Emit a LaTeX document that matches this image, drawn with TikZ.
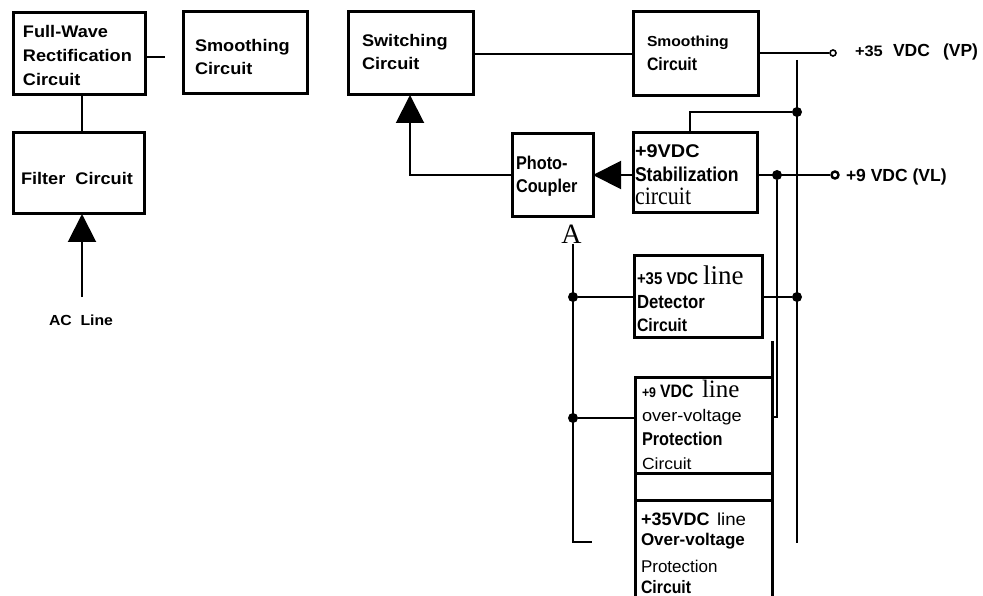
\documentclass[tikz,border=0pt]{standalone}
\usepackage{fontspec}
\usetikzlibrary{arrows.meta}
\newfontfamily\fw{Liberation Sans}[FakeStretch=1.08]
\newfontfamily\fn{Liberation Sans}
\newfontfamily\fc{Liberation Sans}[FakeStretch=0.88]
\newfontfamily\fs{Liberation Serif}
\newfontfamily\fsc{Liberation Serif}[FakeStretch=0.88]
\newcommand\fz[1]{\fontsize{#1}{#1}\selectfont}
\tikzset{
  box/.style={draw, line width=3pt, rectangle, inner sep=0, outer sep=0, anchor=north west},
  conn/.style={line width=2pt},
  txt/.style={inner sep=0, outer sep=0, anchor=base west},
  dotnode/.style={circle, fill, inner sep=0, minimum size=10pt},
  term/.style={circle, draw, fill=white, inner sep=0, minimum size=6pt, line width=1.6pt},
  tri/.style={-{Triangle[length=28pt,width=28pt]}}
}
\begin{document}
\begin{tikzpicture}[x=1pt,y=-1pt]
\useasboundingbox (0,0) rectangle (983,596);
\clip (0,0) rectangle (983,596);
% boxes
\node[box, minimum width=132pt, minimum height=82pt] (fw) at (13,13) {};
\node[box, minimum width=124pt, minimum height=82pt] (sm1) at (183,12) {};
\node[box, minimum width=131pt, minimum height=81pt] (filt) at (13,133) {};
\node[box, minimum width=125pt, minimum height=83pt] (sw) at (348,12) {};
\node[box, minimum width=125pt, minimum height=84pt] (sm2) at (633,12) {};
\node[box, minimum width=124pt, minimum height=80pt] (stab) at (633,133) {};
\node[box, minimum width=81pt, minimum height=83pt] (pc) at (512,134) {};
\node[box, minimum width=128pt, minimum height=81pt] (det) at (634,256) {};
\node[box, minimum width=137pt, minimum height=96pt] (p9) at (635,377) {};
\node[box, minimum width=137pt, minimum height=110pt] (p35) at (635,500) {};
% texts
\begin{scope}[every node/.style={txt}]
\node[font=\fw\bfseries\fz{16.8}] (t1) at (23,38) {Full-Wave};
\node[font=\fw\bfseries\fz{16.8}] (t2) at (23,62) {Rectification};
\node[font=\fw\bfseries\fz{16.8}] (t3) at (23,86) {Circuit};
\node[font=\fw\bfseries\fz{16.8}] (t4) at (195,52) {Smoothing};
\node[font=\fw\bfseries\fz{16.8}] (t5) at (195,75) {Circuit};
\node[font=\fw\bfseries\fz{16.8}] (t6) at (21,185) {Filter\ \ Circuit};
\node[font=\fw\bfseries\fz{14.6}] (ac) at (49,325) {AC\ \ Line};
\node[font=\fw\bfseries\fz{16.8}] (t7) at (362,47) {Switching};
\node[font=\fw\bfseries\fz{16.8}] (t8) at (362,70) {Circuit};
\node[font=\fw\bfseries\fz{14.5}] (t9) at (647,47) {Smoothing};
\node[font=\fc\bfseries\fz{18}] (t10) at (647,71) {Circuit};
\node[font=\fc\bfseries\fz{18.5}] (t11) at (516,170) {Photo-};
\node[font=\fc\bfseries\fz{18.5}] (t12) at (516,193) {Coupler};
\node[font=\fw\bfseries\fz{18.4}] (t13) at (635,158) {+9VDC};
\node[font=\fc\bfseries\fz{20}] (t14) at (635,182) {Stabilization};
\node[font=\fsc\fz{25}] (t15) at (635,205) {circuit};
\node[font=\fc\bfseries\fz{17}] (t16) at (637,284) {+35 VDC};
\node[font=\fs\fz{27}] (t17) at (703,284) {line};
\node[font=\fc\bfseries\fz{19}] (t18) at (637,308.5) {Detector};
\node[font=\fc\bfseries\fz{18}] (t19) at (637,331.5) {Circuit};
\node[font=\fc\bfseries\fz{14}] (t20) at (642,397) {+9};
\node[font=\fc\bfseries\fz{18}] (t21) at (660,397) {VDC};
\node[font=\fs\fz{25}] (t22) at (702,397) {line};
\node[font=\fw\fz{16.8}] (t23) at (642,421) {over-voltage};
\node[font=\fc\bfseries\fz{18.5}] (t24) at (642,445) {Protection};
\node[font=\fw\fz{16.2}] (t25) at (642,469) {Circuit};
\node[font=\fn\bfseries\fz{18}] (t26) at (641,525) {+35VDC};
\node[font=\fw\fz{17.3}] (t27) at (717,525) {line};
\node[font=\fn\bfseries\fz{17}] (t28) at (641,545) {Over-voltage};
\node[font=\fn\fz{17}] (t29) at (641,572) {Protection};
\node[font=\fc\bfseries\fz{18}] (t30) at (641,593) {Circuit};
\node[font=\fw\bfseries\fz{15.2}] (t31) at (855,57) {+35};
\node[font=\fn\bfseries\fz{17.5}] (t32) at (893,57) {VDC};
\node[font=\fn\bfseries\fz{17.5}] (t33) at (943,57) {(VP)};
\node[font=\fn\bfseries\fz{17.5}] (t34) at (846,182) {+9 VDC (VL)};
\end{scope}
\node[font=\fs\fz{28}, inner sep=0, anchor=base] (A) at (571.5,244) {A};
% terminals and dots
\node[term] (vp) at (833,53) {};
\node[term, minimum size=7pt, line width=2.4pt] (vl) at (835,175) {};
\node[dotnode] (d1) at (797,112) {};
\node[dotnode] (d2) at (777,175) {};
\node[dotnode] (d3) at (573,297) {};
\node[dotnode] (d4) at (797,297) {};
\node[dotnode] (d5) at (573,418) {};
\coordinate (fwend) at (165,57);
\coordinate (vtop) at (797,60);
\coordinate (vbot) at (797,543);
\coordinate (stabup) at (690,112);
\coordinate (hook) at (777,417);
\coordinate (hookend) at (771,417);
\coordinate (aline) at (573,244);
\coordinate (abot) at (573,542);
\coordinate (aend) at (592,542);
\coordinate (acin) at (82,297);
\coordinate (pcturn) at (410,175);
\coordinate (rtop) at (772,341);
% connectors
\draw[conn] (fw.east |- fwend) -- (fwend);
\draw[conn] (fw.south -| 82,0) -- (filt.north -| 82,0);
\draw[conn, tri] (acin) -- (filt.south -| acin);
\draw[conn] (sw.east |- 0,54) -- (sm2.west |- 0,54);
\draw[conn] (sm2.east |- vp) -- (vp);
\draw[line width=2.2pt] (vtop) -- (vbot);
\draw[conn] (stab.north -| stabup) -- (stabup) -- (d1);
\draw[conn] (stab.east |- vl) -- (vl);
\draw[conn] (d2) -- (hook) -- (hookend);
\draw[conn, tri] (stab.west |- 0,175) -- (pc.east |- 0,175);
\draw[conn, tri] (pc.west |- pcturn) -- (pcturn) -- (sw.south -| pcturn);
\draw[conn] (aline) -- (abot) -- (aend);
\draw[conn] (det.west |- d3) -- (d3);
\draw[conn] (det.east |- d4) -- (d4);
\draw[conn] (p9.west |- d5) -- (d5);
\draw[line width=3pt] (p9.south west) -- (p35.north west);
\draw[line width=3pt] (rtop) -- (p35.north east |- rtop) -- (p35.south east);
\end{tikzpicture}
\end{document}
